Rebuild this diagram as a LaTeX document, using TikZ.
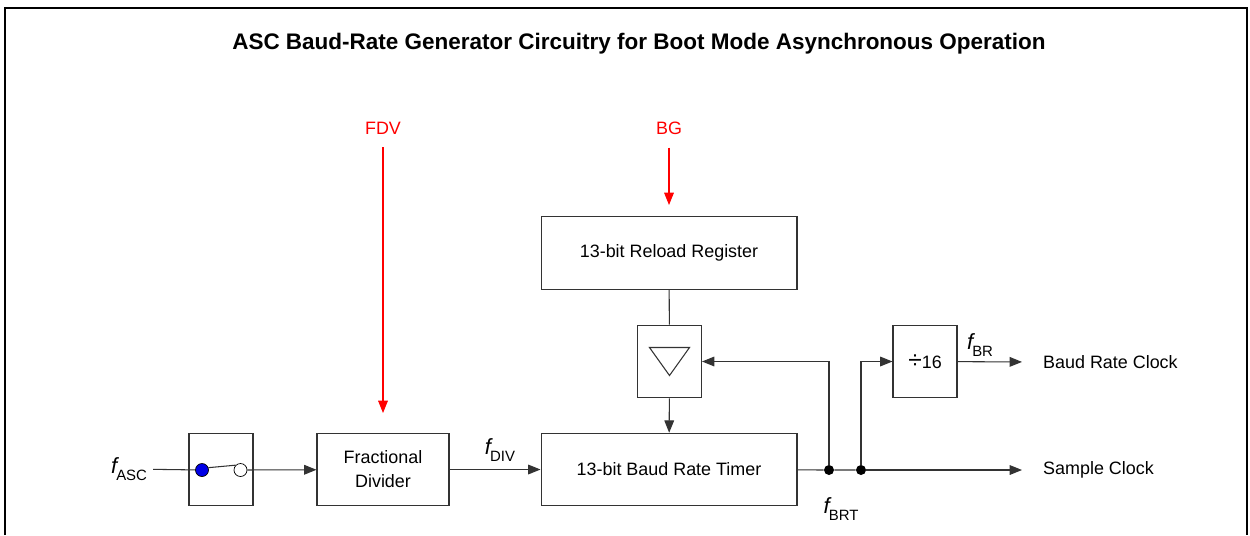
\documentclass[tikz,border=0pt]{standalone}
\usepackage{fontspec}
\setmainfont{Liberation Sans}
\usetikzlibrary{arrows.meta}
\newcommand{\fsub}[1]{{\fontsize{12.5}{14}\selectfont\itshape f}\kern-0.5pt\raisebox{-0.7ex}{\fontsize{8.5}{10}\selectfont #1}}

\begin{document}
\begin{tikzpicture}[x=0.02cm,y=-0.02cm,
  font=\fontsize{10.2}{13.6}\selectfont,
  blk/.style={draw=lineGray,line width=0.6pt,minimum height=1.45cm,inner sep=0pt,align=center},
  wire/.style={draw=lineGray,line width=0.6pt},
  sig/.style={wire,-{Triangle[length=7pt,width=5.5pt]}},
  ctrl/.style={draw=red,line width=0.6pt,-{Triangle[length=7pt,width=5.5pt]},shorten <=4pt},
  pinbox/.style={circle,draw=black,line width=0.4pt,minimum size=0.26cm,inner sep=0pt},
  junction/.style={circle,fill=black,inner sep=0pt,minimum size=0.2cm}]
\definecolor{lineGray}{HTML}{333333}
\definecolor{pinBlue}{HTML}{0000E6}
\useasboundingbox (0,0) rectangle (1250,535);
\draw[line width=1.1pt] (5,535) -- (5,8) -- (1247,8) -- (1247,535);
\node[font=\fontsize{12.8}{15}\selectfont\bfseries] (title) at (639,44) {ASC Baud-Rate Generator Circuitry for Boot Mode Asynchronous Operation};
\node[text=red] (fdv) at (383,128) {FDV};
\node[text=red] (bg) at (669,128) {BG};
\coordinate (fdvend) at (383,413);
\coordinate (bgend) at (669,205);
\draw[ctrl] (fdv) -- (fdvend);
\draw[ctrl] (bg) -- (bgend);
\node[blk,minimum width=5.12cm] (reload) at (669,253) {13-bit Reload Register};
\node[blk,minimum width=1.28cm] (drv) at (669.5,361.5) {};
\node[blk,minimum width=5.12cm] (timer) at (669,469.5) {13-bit Baud Rate Timer};
\node[blk,minimum width=2.64cm] (frac) at (383,469.5) {Fractional\\Divider};
\node[blk,minimum width=1.28cm] (sw) at (221,469.5) {};
\node[blk,minimum width=1.28cm] (div16) at (925,361.5) {{\fontsize{14}{14}\selectfont ÷}16};
\draw[lineGray,line width=0.6pt] ([shift={(-20,-14)}]drv.center) -- ([shift={(20,-14)}]drv.center) -- ([shift={(0,14)}]drv.center) -- cycle;
\node[pinbox,fill=pinBlue] (pin) at (202,470) {};
\node[pinbox,fill=white] (pout) at (240.5,470) {};
\draw[wire] (pin.20) -- (pout.135);
\node (fasc) at (129,469) {\fsub{ASC}};
\node (fdiv) at (500,450) {\fsub{DIV}};
\node (fbr) at (980,345) {\fsub{BR}};
\node (fbrt) at (841,509) {\fsub{BRT}};
\draw[wire] (fasc) -- (pin);
\draw[sig] (pout) -- (frac);
\draw[sig] (frac) -- (timer);
\draw[wire] (reload) -- (drv);
\draw[sig] (drv) -- (timer);
\foreach \nm/\xx in {jfb/829,jdiv/861} {
  \node[junction] (\nm) at (\xx,470) {};
}
\foreach \nm/\yy/\lab in {brclk/362/Baud Rate Clock,sclk/470/Sample Clock} {
  \node[anchor=west] (\nm) at (1037,\yy) {\lab};
}
\draw[wire] (timer) -- (jfb) -- (jdiv);
\draw[sig] (jfb) |- (drv);
\draw[sig] (jdiv) |- (div16);
\draw[sig,shorten >=3mm] (div16) -- (brclk.west);
\draw[sig,shorten >=3mm] (jdiv) -- (sclk.west);
\end{tikzpicture}
\end{document}
